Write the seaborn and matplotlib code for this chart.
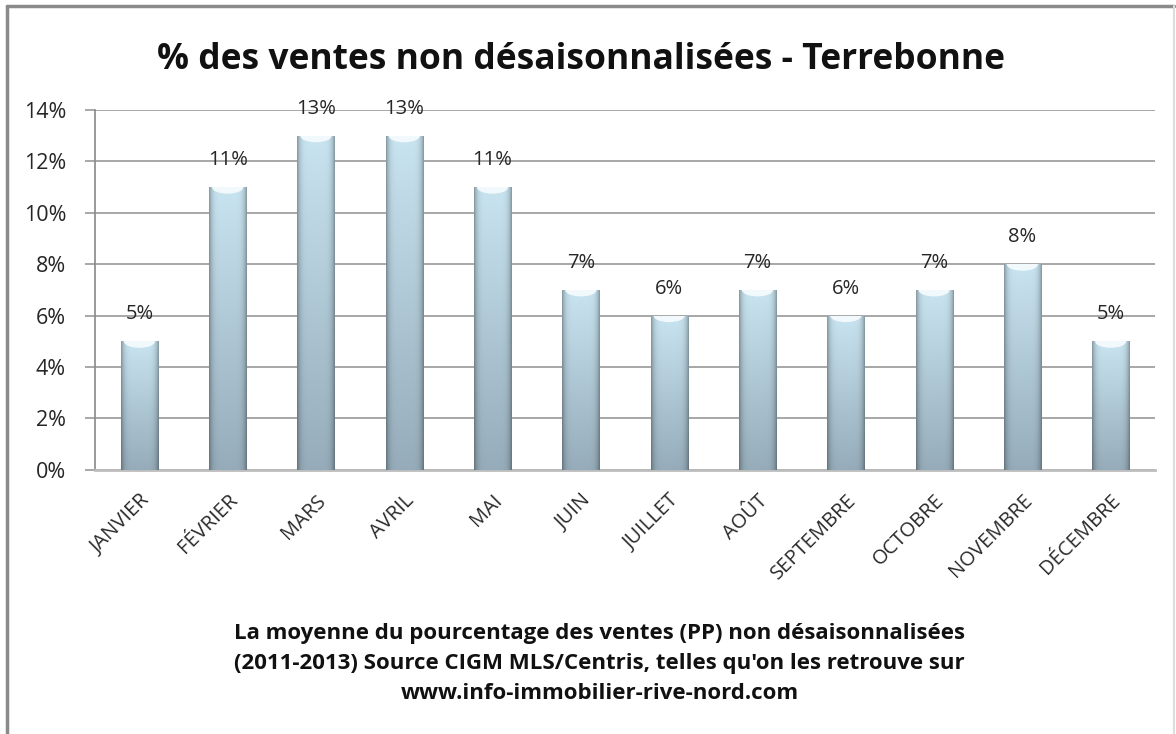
import numpy as np
import pandas as pd
import seaborn as sns
import matplotlib.pyplot as plt
from matplotlib.lines import Line2D
from matplotlib.patches import Ellipse

# data
mois = ['JANVIER', 'FÉVRIER', 'MARS', 'AVRIL', 'MAI', 'JUIN', 'JUILLET',
        'AOÛT', 'SEPTEMBRE', 'OCTOBRE', 'NOVEMBRE', 'DÉCEMBRE']
pct_ventes = [5, 11, 13, 13, 11, 7, 6, 7, 6, 7, 8, 5]
y_ticks = [0, 2, 4, 6, 8, 10, 12, 14]

titre = '% des ventes non désaisonnalisées - Terrebonne'
legende = ("La moyenne du pourcentage des ventes (PP) non désaisonnalisées\n"
           "(2011-2013) Source CIGM MLS/Centris, telles qu'on les retrouve sur\n"
           "www.info-immobilier-rive-nord.com")

df = pd.DataFrame({'mois': mois, 'pct': pct_ventes})

sns.set_theme(style='white')
plt.rcParams['font.family'] = ['Open Sans', 'DejaVu Sans']

fig = plt.figure(figsize=(11.76, 7.34), dpi=100)
ax = fig.add_axes([0.081, 0.360, 0.901, 0.490])

sns.barplot(data=df, x='mois', y='pct', color='#b0cad8', width=0.42, ax=ax,
            edgecolor='none', zorder=3)

# cylinder-ish gradient fill, clipped to every bar
nx, ny = 64, 64
xx = np.linspace(-1, 1, nx)
yy = np.linspace(0, 1, ny)[:, None]
top = np.array([200, 228, 240]) / 255
bot = np.array([150, 172, 186]) / 255
base = bot + (top - bot) * yy[..., None]
shade = 1 - 0.33 * np.abs(xx)[None, :, None] ** 6
grad = np.clip(base * shade, 0, 1)

for p in ax.patches:
    x0, w, h = p.get_x(), p.get_width(), p.get_height()
    im = ax.imshow(grad, extent=[x0, x0 + w, 0, h], origin='lower',
                   aspect='auto', zorder=4, interpolation='bilinear')
    im.set_clip_path(p)
    # concave light cap at the top of each bar
    cap = Ellipse((x0 + w / 2, h), w * 0.8, 0.45, color='#f2f9fc', zorder=5)
    ax.add_patch(cap)
    cap.set_clip_path(p)
    ax.text(x0 + w / 2, h + 0.66, f'{int(h)}%', ha='center', va='bottom',
            fontsize=14.5, color='#262626', zorder=6)

ax.set_xlim(-0.5, len(mois) - 0.5)
ax.set_ylim(0, 14)
ax.set_yticks(y_ticks)
ax.set_yticklabels([f'{v}%' for v in y_ticks], fontsize=15.5, color='#262626')
ax.set_xticks(range(len(mois)))
ax.set_xticklabels(mois, rotation=45, ha='right', rotation_mode='anchor',
                   fontsize=14.5, color='#2a2a2a')
ax.tick_params(axis='x', pad=15, length=0)
ax.tick_params(axis='y', pad=14, length=7, width=1.2, color='#9a9a9a',
               direction='out', left=True)
ax.set_xlabel('')
ax.set_ylabel('')

ax.yaxis.grid(True, color='#a0a0a0', linewidth=1.3, zorder=0)
ax.set_axisbelow(True)
for s in ['top', 'right']:
    ax.spines[s].set_visible(False)
ax.spines['left'].set_color('#8c8c8c')
ax.spines['bottom'].set_color('#bdbdbd')
ax.spines['bottom'].set_linewidth(2)

fig.text(0.494, 0.918, titre, ha='center', va='center', fontsize=25.5,
         fontweight='bold', color='#111111')
fig.text(0.51, 0.096, legende, ha='center', va='center', fontsize=16,
         fontweight='bold', color='#111111', linespacing=1.55)

# outer frame of the original picture
fig.add_artist(Line2D([0.006, 0.006], [0.0, 0.992], transform=fig.transFigure,
                      color='#8a8a8a', linewidth=2.5))
fig.add_artist(Line2D([0.006, 0.998], [0.992, 0.992], transform=fig.transFigure,
                      color='#8a8a8a', linewidth=2.5))
fig.add_artist(Line2D([0.998, 0.998], [0.0, 0.992], transform=fig.transFigure,
                      color='#dddddd', linewidth=1.5))

fig.savefig('out.png', dpi=100)
